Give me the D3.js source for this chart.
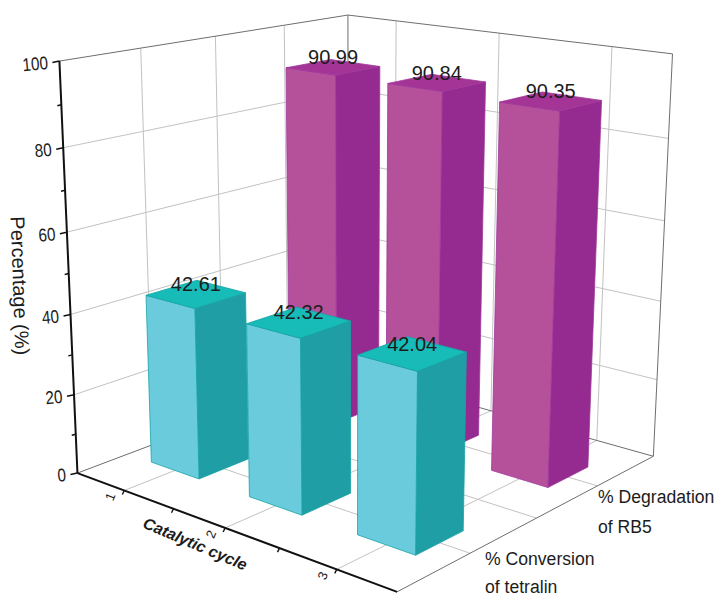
<!DOCTYPE html>
<html>
<head>
<meta charset="utf-8">
<script src="https://cdn.jsdelivr.net/npm/d3@7"></script>
<style>
  html, body { margin: 0; background: #fff; }
  svg { display: block; }
  text { font-family: "Liberation Sans", Arial, sans-serif; fill: #1c1c1c; }
</style>
</head>
<body>
<svg id="chart" width="715" height="597"></svg>
<script>
const cycles = [1, 2, 3];
const minorCycles = [1.5, 2.5];
const seriesSlots = [1, 2];
const seriesGridSlots = [1, 1.5, 2];
const conversion = [42.61, 42.32, 42.04];
const degradation = [90.99, 90.84, 90.35];
const valueTicks = [0, 20, 40, 60, 80, 100];
const minorValueTicks = [10, 30, 50, 70, 90];

const cyanFaces = { front: "#6acbdc", side: "#1f9fa5", top: "#17bcb9", edge: "#17a3a6" };
const purpleFaces = { front: "#b5519b", side: "#952a90", top: "#a43596", edge: "#a0379a" };

// Box corners of the plot volume: [u, v, w] on the page at [x, y].
const volumeAnchors = [
  [0, 0, 0, 77, 473], [1, 0, 0, 397, 592], [0, 1, 0, 349, 371], [1, 1, 0, 653, 456],
  [0, 0, 1, 60, 61], [0, 1, 1, 347, 15], [1, 1, 1, 673, 54]
];

// Fit a perspective camera to the anchors by normal equations.
function fitCamera(anchors) {
  const rows = [], rhs = [];
  anchors.forEach(([u, v, w, x, y]) => {
    rows.push([u, v, w, 1, 0, 0, 0, 0, -x * u, -x * v, -x * w]); rhs.push(x);
    rows.push([0, 0, 0, 0, u, v, w, 1, -y * u, -y * v, -y * w]); rhs.push(y);
  });
  const n = 11;
  const A = d3.range(n).map(i => d3.range(n + 1).map(j =>
    d3.sum(rows, (r, k) => r[i] * (j < n ? r[j] : rhs[k]))));
  for (let i = 0; i < n; i++) {
    let p = i;
    for (let k = i + 1; k < n; k++) if (Math.abs(A[k][i]) > Math.abs(A[p][i])) p = k;
    [A[i], A[p]] = [A[p], A[i]];
    for (let k = 0; k < n; k++) {
      if (k === i) continue;
      const f = A[k][i] / A[i][i];
      for (let j = i; j <= n; j++) A[k][j] -= f * A[i][j];
    }
  }
  return d3.range(n).map(i => A[i][n] / A[i][i]);
}
const cam = fitCamera(volumeAnchors);
function project(u, v, w) {
  const d = cam[8] * u + cam[9] * v + cam[10] * w + 1;
  return [(cam[0] * u + cam[1] * v + cam[2] * w + cam[3]) / d,
          (cam[4] * u + cam[5] * v + cam[6] * w + cam[7]) / d];
}

const uScale = d3.scaleLinear().domain([0.5, 3.5]).range([0, 1]);
const vScale = d3.scaleLinear().domain([0.5, 2.5]).range([0, 1]);
const wScale = d3.scaleLinear().domain([0, 100]).range([0, 1]);

const barHalfU = 0.083;
const barHalfV = 0.085;

const svg = d3.select("#chart");
const lineGen = d3.line();
const seg = (a, b) => lineGen([a, b]);

// Walls and floor grid.
const grid = svg.append("g").attr("fill", "none").attr("stroke", "#c2c2c2").attr("stroke-width", 1);
const gridSegs = [];
valueTicks.slice(1, -1).forEach(t => {
  const w = wScale(t);
  gridSegs.push([project(0, 0, w), project(0, 1, w)], [project(0, 1, w), project(1, 1, w)]);
});
cycles.forEach(c => {
  const u = uScale(c);
  gridSegs.push([project(u, 0, 0), project(u, 1, 0)], [project(u, 1, 0), project(u, 1, 1)]);
});
seriesGridSlots.forEach(s => {
  const v = vScale(s);
  gridSegs.push([project(0, v, 0), project(1, v, 0)], [project(0, v, 0), project(0, v, 1)]);
});
grid.selectAll("path").data(gridSegs).join("path").attr("d", d => seg(d[0], d[1]));

// Outline of the walls and the floor.
const frame = svg.append("g").attr("fill", "none").attr("stroke", "#6e6e6e").attr("stroke-width", 1);
[
  [[0, 0, 1], [0, 1, 1]], [[0, 1, 1], [1, 1, 1]], [[1, 1, 1], [1, 1, 0]],
  [[0, 1, 1], [0, 1, 0]], [[1, 1, 0], [1, 0, 0]], [[0, 0, 0], [0, 1, 0]], [[0, 1, 0], [1, 1, 0]]
].forEach(([a, b]) => frame.append("path").attr("d", seg(project(...a), project(...b))));

// Bars, rear series first so the front row overlaps it.
function barFaces(cycle, slot, value, colors) {
  const u0 = uScale(cycle) - barHalfU, u1 = uScale(cycle) + barHalfU;
  const v0 = vScale(slot) - barHalfV, v1 = vScale(slot) + barHalfV;
  const w = wScale(value);
  return [
    { fill: colors.side, stroke: colors.edge, pts: [[u1, v0, 0], [u1, v1, 0], [u1, v1, w], [u1, v0, w]] },
    { fill: colors.front, stroke: colors.edge, pts: [[u0, v0, 0], [u1, v0, 0], [u1, v0, w], [u0, v0, w]] },
    { fill: colors.top, stroke: colors.edge, pts: [[u0, v0, w], [u1, v0, w], [u1, v1, w], [u0, v1, w]] }
  ];
}
function drawSeries(values, slot, colors) {
  const g = svg.append("g");
  const bars = g.selectAll("g").data(values).join("g");
  bars.selectAll("path")
    .data((d, i) => barFaces(cycles[i], slot, d, colors))
    .join("path")
    .attr("d", f => lineGen(f.pts.map(p => project(...p))) + "Z")
    .attr("fill", f => f.fill)
    .attr("stroke", f => f.stroke)
    .attr("stroke-width", 0.8)
    .attr("stroke-linejoin", "round");
}
function drawValueLabels(values, slot) {
  svg.append("g").selectAll("text").data(values).join("text")
    .attr("text-anchor", "middle")
    .attr("font-size", 20)
    .attr("x", (d, i) => project(uScale(cycles[i]), vScale(slot), wScale(d))[0])
    .attr("y", (d, i) => project(uScale(cycles[i]), vScale(slot), wScale(d))[1] - 3)
    .text(d => d.toFixed(2));
}
drawSeries(degradation, seriesSlots[1], purpleFaces);
drawSeries(conversion, seriesSlots[0], cyanFaces);
drawValueLabels(degradation, seriesSlots[1]);
drawValueLabels(conversion, seriesSlots[0]);

// Value axis.
const axisPen = "#111";
svg.append("path").attr("d", seg(project(0, 0, 0), project(0, 0, 1)))
  .attr("stroke", axisPen).attr("stroke-width", 2).attr("fill", "none");
svg.append("g").selectAll("path").data(valueTicks.concat(minorValueTicks)).join("path")
  .attr("d", t => {
    const major = valueTicks.includes(t);
    const a = project(0, 0, wScale(t));
    return seg(a, [a[0] - (major ? 7 : 4), a[1] + (major ? 1.5 : 1)]);
  })
  .attr("stroke", axisPen).attr("stroke-width", 1.5);
svg.append("g").selectAll("text").data(valueTicks).join("text")
  .attr("text-anchor", "end")
  .attr("font-size", 17)
  .attr("transform", t => {
    const a = project(0, 0, wScale(t));
    return `translate(${a[0] - 11},${a[1] + 8}) rotate(-5) scale(0.9,1.08)`;
  })
  .text(d => d);
svg.append("text")
  .attr("text-anchor", "middle")
  .attr("font-size", 20)
  .attr("transform", "translate(13,286) rotate(88)")
  .text("Percentage (%)");

// Cycle axis.
svg.append("path").attr("d", seg(project(0, 0, 0), project(1, 0, 0)))
  .attr("stroke", axisPen).attr("stroke-width", 2).attr("fill", "none");
svg.append("g").selectAll("path").data(cycles.concat(minorCycles)).join("path")
  .attr("d", c => {
    const a = project(uScale(c), 0, 0);
    return seg(a, [a[0] - 2, a[1] + 4]);
  })
  .attr("stroke", axisPen).attr("stroke-width", 1.4);
svg.append("g").selectAll("text").data(cycles).join("text")
  .attr("text-anchor", "middle")
  .attr("font-size", 13)
  .attr("transform", c => {
    const a = project(uScale(c), 0, 0);
    return `translate(${a[0] - 10},${a[1] + 8}) rotate(-68)`;
  })
  .text(d => d);
svg.append("text")
  .attr("text-anchor", "middle")
  .attr("font-size", 16)
  .attr("font-weight", "bold")
  .attr("font-style", "italic")
  .attr("transform", "translate(193,549) rotate(23)")
  .text("Catalytic cycle");

// Series names beside the floor edge.
const seriesNames = [["% Conversion", "of tetralin"], ["% Degradation", "of RB5"]];
const seriesNameAnchors = [[485, 565], [598, 503]];
const seriesNameSpacing = [28, 30];
seriesNames.forEach((lines, i) => {
  svg.append("g").selectAll("text").data(lines).join("text")
    .attr("font-size", 17.6)
    .attr("x", seriesNameAnchors[i][0])
    .attr("y", (d, k) => seriesNameAnchors[i][1] + k * seriesNameSpacing[i])
    .text(d => d);
});
</script>
</body>
</html>
